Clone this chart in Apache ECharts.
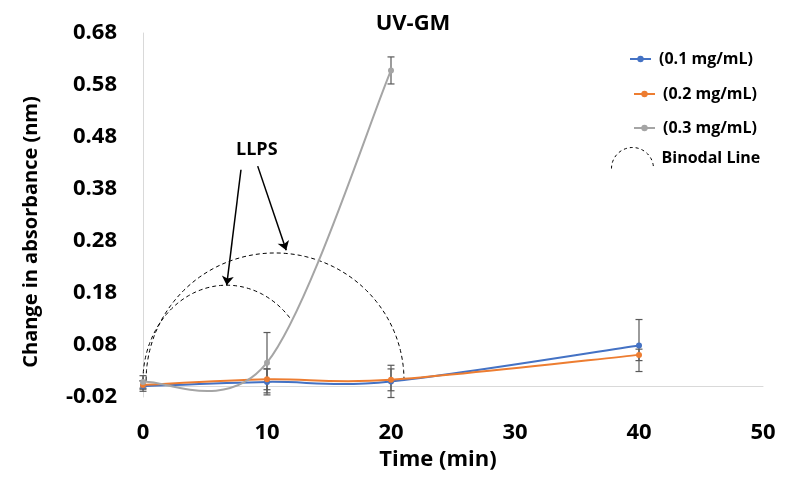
<!DOCTYPE html>
<html>
<head>
<meta charset="utf-8">
<script src="https://cdn.jsdelivr.net/npm/echarts@6/dist/echarts.min.js"></script>
<style>
  html, body { margin: 0; padding: 0; background: #fff; }
  #chart { width: 790px; height: 477px; }
</style>
</head>
<body>
<div id="chart"></div>
<script>
// time points (min)
var times = [0, 10, 20, 40];
var times03 = [0, 10, 20];

// change in absorbance per concentration
var conc01 = [0.001, 0.009, 0.010, 0.079];
var conc02 = [0.003, 0.014, 0.013, 0.061];
var conc03 = [0.009, 0.046, 0.608];

// error bar half widths
var err01 = [0.010, 0.025, 0.031, 0.050];
var err02 = [0.008, 0.020, 0.021, 0.011];
var err03 = [0.012, 0.058, 0.026];

// binodal lines: [centre x, centre y, radius x, radius y, start angle, end angle]
var binodalArcs = [
  [6.75, 0.012, 6.75, 0.183, 180, 40],
  [10.65, 0.012, 10.4, 0.245, 180, 0]
];

// LLPS arrows: [from x, from y, to x, to y]
var llpsArrows = [
  [7.9, 0.417, 6.75, 0.195],
  [9.25, 0.424, 11.55, 0.262]
];

var yTicks = { min: -0.02, max: 0.68, step: 0.1 };
var xTicks = { min: 0, max: 50, step: 10 };

var names = ['(0.1 mg/mL)', '(0.2 mg/mL)', '(0.3 mg/mL)', 'Binodal Line'];
var colors = ['#4472C4', '#ED7D31', '#A5A5A5'];

var font = '"Open Sans", "DejaVu Sans", sans-serif';

function pairs(xs, ys) {
  var out = [];
  for (var i = 0; i < ys.length; i++) out.push([xs[i], ys[i]]);
  return out;
}

var errData = [];
[[times, conc01, err01], [times, conc02, err02], [times03, conc03, err03]].forEach(function (s) {
  for (var i = 0; i < s[1].length; i++) {
    errData.push([s[0][i], s[1][i] - s[2][i], s[1][i] + s[2][i]]);
  }
});

var arrowLines = llpsArrows.map(function (a) {
  return [{ coord: [a[0], a[1]] }, { coord: [a[2], a[3]] }];
});

var myChart = echarts.init(document.getElementById('chart'));

// excel style smoothed line, one bezier piece per segment
function curveSeries(xs, ys, color, z) {
  return {
    type: 'custom',
    data: pairs(xs, ys),
    z: z,
    silent: true,
    renderItem: function (params, api) {
      var i = params.dataIndex;
      if (i === 0) return null;
      var n = ys.length;
      var p = function (k) {
        k = Math.max(0, Math.min(n - 1, k));
        return api.coord([xs[k], ys[k]]);
      };
      var p0 = p(i - 2), p1 = p(i - 1), p2 = p(i), p3 = p(i + 1);
      return {
        type: 'bezierCurve',
        shape: {
          x1: p1[0], y1: p1[1], x2: p2[0], y2: p2[1],
          cpx1: p1[0] + (p2[0] - p0[0]) / 6, cpy1: p1[1] + (p2[1] - p0[1]) / 6,
          cpx2: p2[0] - (p3[0] - p1[0]) / 6, cpy2: p2[1] - (p3[1] - p1[1]) / 6
        },
        style: { stroke: color, fill: null, lineWidth: 2 }
      };
    }
  };
}

function pointSeries(name, data, color, z) {
  return {
    name: name,
    type: 'line',
    data: data,
    symbol: 'circle',
    symbolSize: 6,
    z: z,
    itemStyle: { color: color },
    lineStyle: { color: color, width: 2, opacity: 0 },
    emphasis: { disabled: true }
  };
}

function legendItem(k) {
  return { name: names[k], lineStyle: { color: colors[k], width: 2, opacity: 1 } };
}

var legendText = { fontFamily: font, fontSize: 16, fontWeight: 'bold', color: '#000', padding: [0, 0, 0, 3] };

var option = {
  animation: false,
  backgroundColor: '#fff',
  title: {
    text: 'UV-GM',
    left: 408,
    top: 8,
    textAlign: 'center',
    textStyle: { fontFamily: font, fontSize: 22, fontWeight: 'bold', color: '#000' }
  },
  grid: { left: 143, right: 27, top: 33, bottom: 80 },
  legend: [
    {
      data: [legendItem(0)],
      left: 629, top: 51, padding: 0,
      itemWidth: 21, itemHeight: 8,
      textStyle: legendText
    },
    {
      data: [legendItem(1), legendItem(2)],
      orient: 'vertical',
      left: 633, top: 86, padding: 0,
      itemWidth: 21, itemHeight: 8, itemGap: 18,
      textStyle: legendText
    },
    {
      data: [{
        name: names[3],
        icon: 'path://M1,20 A19,19 0 0 1 39,20',
        itemStyle: { color: 'none', borderColor: '#000', borderWidth: 1, borderType: [3, 3] }
      }],
      left: 609, top: 145, padding: 0,
      itemWidth: 42, itemHeight: 24,
      textStyle: legendText
    }
  ],
  xAxis: {
    type: 'value',
    min: xTicks.min,
    max: xTicks.max,
    interval: xTicks.step,
    name: 'Time (min)',
    nameLocation: 'middle',
    nameGap: 52,
    nameTextStyle: { fontFamily: font, fontSize: 22, fontWeight: 'bold', color: '#000', padding: [0, 30, 0, 0] },
    axisLine: { onZero: true, lineStyle: { color: '#D9D9D9', width: 1 } },
    axisTick: { show: false },
    splitLine: { show: false },
    axisLabel: { margin: 25, fontFamily: font, fontSize: 22, fontWeight: 'bold', color: '#000' }
  },
  yAxis: {
    type: 'value',
    min: yTicks.min,
    max: yTicks.max,
    interval: yTicks.step,
    name: 'Change in absorbance (nm)',
    nameLocation: 'middle',
    nameGap: 102,
    nameTextStyle: { fontFamily: font, fontSize: 20, fontWeight: 'bold', color: '#000', padding: [0, 34, 0, 0] },
    axisLine: { show: true, lineStyle: { color: '#D9D9D9', width: 1 } },
    axisTick: { show: false },
    splitLine: { show: false },
    axisLabel: {
      margin: 26, fontFamily: font, fontSize: 22, fontWeight: 'bold', color: '#000',
      formatter: function (v) { return v.toFixed(2); }
    }
  },
  graphic: [
    {
      type: 'text',
      left: 236, top: 141,
      style: { text: 'LLPS', font: 'bold 18px ' + font, fill: '#000' }
    }
  ],
  series: [
    {
      name: names[3],
      type: 'custom',
      data: binodalArcs,
      z: 3,
      silent: true,
      itemStyle: { color: '#000' },
      renderItem: function (params, api) {
        var cx = api.value(0), cy = api.value(1), rx = api.value(2), ry = api.value(3);
        var a0 = api.value(4), a1 = api.value(5);
        var pts = [];
        var n = 80;
        for (var k = 0; k <= n; k++) {
          var t = (a0 + (a1 - a0) * k / n) * Math.PI / 180;
          pts.push(api.coord([cx + rx * Math.cos(t), cy + ry * Math.sin(t)]));
        }
        return {
          type: 'polyline',
          shape: { points: pts },
          style: { stroke: '#000', fill: null, lineWidth: 1, lineDash: [4, 3] }
        };
      }
    },
    {
      name: 'errors',
      type: 'custom',
      data: errData,
      z: 4,
      silent: true,
      renderItem: function (params, api) {
        var lo = api.coord([api.value(0), api.value(1)]);
        var hi = api.coord([api.value(0), api.value(2)]);
        var w = 3.5;
        var st = { stroke: '#595959', lineWidth: 1.2 };
        return {
          type: 'group',
          children: [
            { type: 'line', shape: { x1: lo[0], y1: lo[1], x2: hi[0], y2: hi[1] }, style: st },
            { type: 'line', shape: { x1: lo[0] - w, y1: lo[1], x2: lo[0] + w, y2: lo[1] }, style: st },
            { type: 'line', shape: { x1: hi[0] - w, y1: hi[1], x2: hi[0] + w, y2: hi[1] }, style: st }
          ]
        };
      }
    },
    curveSeries(times, conc01, colors[0], 5),
    curveSeries(times, conc02, colors[1], 6),
    curveSeries(times03, conc03, colors[2], 7),
    pointSeries(names[0], pairs(times, conc01), colors[0], 8),
    pointSeries(names[1], pairs(times, conc02), colors[1], 9),
    (function () {
      var s = pointSeries(names[2], pairs(times03, conc03), colors[2], 10);
      s.markLine = {
        silent: true,
        symbol: ['none', 'arrow'],
        symbolSize: 9,
        lineStyle: { color: '#000', width: 1.5, type: 'solid', opacity: 1 },
        label: { show: false },
        data: arrowLines
      };
      return s;
    })()
  ]
};

myChart.setOption(option);
</script>
</body>
</html>
